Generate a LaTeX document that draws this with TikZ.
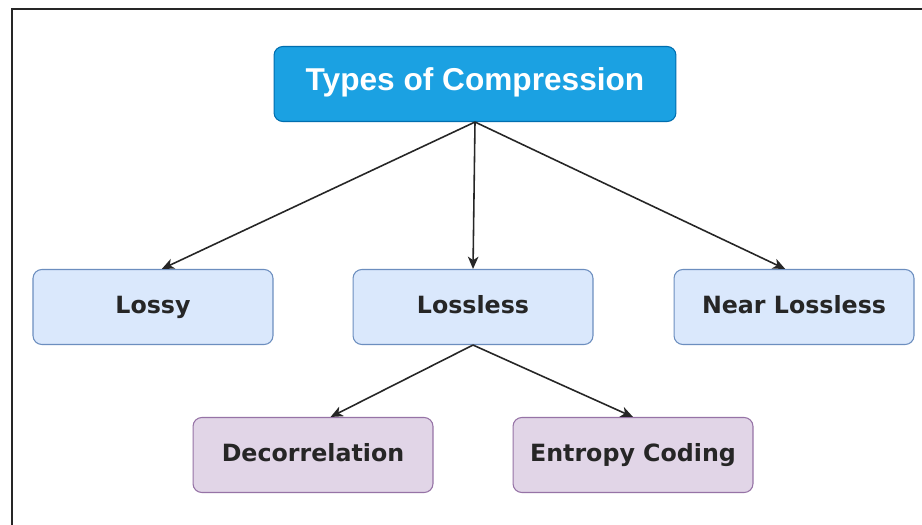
\documentclass[tikz,border=0pt]{standalone}
\usepackage{fontspec}
\setmainfont{DejaVu Sans}
\newfontfamily\titlefont{Liberation Sans}
\usetikzlibrary{arrows.meta}

\definecolor{topblue}{HTML}{1BA1E2}
\definecolor{topline}{HTML}{006EAF}
\definecolor{boxblue}{HTML}{DAE8FC}
\definecolor{lineblue}{HTML}{6C8EBF}
\definecolor{boxpurple}{HTML}{E1D5E7}
\definecolor{linepurple}{HTML}{9673A6}

\tikzset{
  box/.style={rounded corners=5pt, minimum width=4.8cm, minimum height=1.5cm,
    text height=1.33ex, text depth=0pt,
    font=\bfseries\fontsize{13.5}{16}\selectfont, text=black!85, line width=.6pt},
  typebox/.style={box, draw=lineblue, fill=boxblue},
  stagebox/.style={box, draw=linepurple, fill=boxpurple},
  arr/.style={black!85, line width=.9pt, -{Stealth[length=7pt, width=6pt, inset=2pt]}}
}

\begin{document}
\begin{tikzpicture}[x=0.02cm, y=-0.02cm]
\useasboundingbox (0,0) rectangle (922,524);
\fill[white] (0,0) rectangle (922,524);
% outer frame, cut off on the right and at the bottom
\begin{scope}
\clip (0,0) rectangle (922,524);
\draw[black!85, line width=1.7pt] (12,545) |- (940,9);
\end{scope}

\node[box, draw=topline, fill=topblue, text=white, minimum width=8.04cm,
  text height=1.38ex, font=\titlefont\bfseries\fontsize{18}{21}\selectfont]
  (top) at (475,84) {Types of Compression};

\node[typebox] (lossy) at (153,307) {Lossy};
\node[typebox] (lossless) at (473,307) {Lossless};
\node[typebox] (near) at (794,307) {Near Lossless};

\node[stagebox] (decor) at (313,455) {Decorrelation};
\node[stagebox] (entropy) at (633,455) {Entropy Coding};

\draw[arr] (top.south) -- ([xshift=5]lossy.north);
\draw[arr] (top.south) -- (lossless.north);
\draw[arr] (top.south) -- ([xshift=-5]near.north);
\draw[arr] (lossless.south) -- ([xshift=10]decor.north);
\draw[arr] (lossless.south) -- (entropy.north);
\end{tikzpicture}
\end{document}
